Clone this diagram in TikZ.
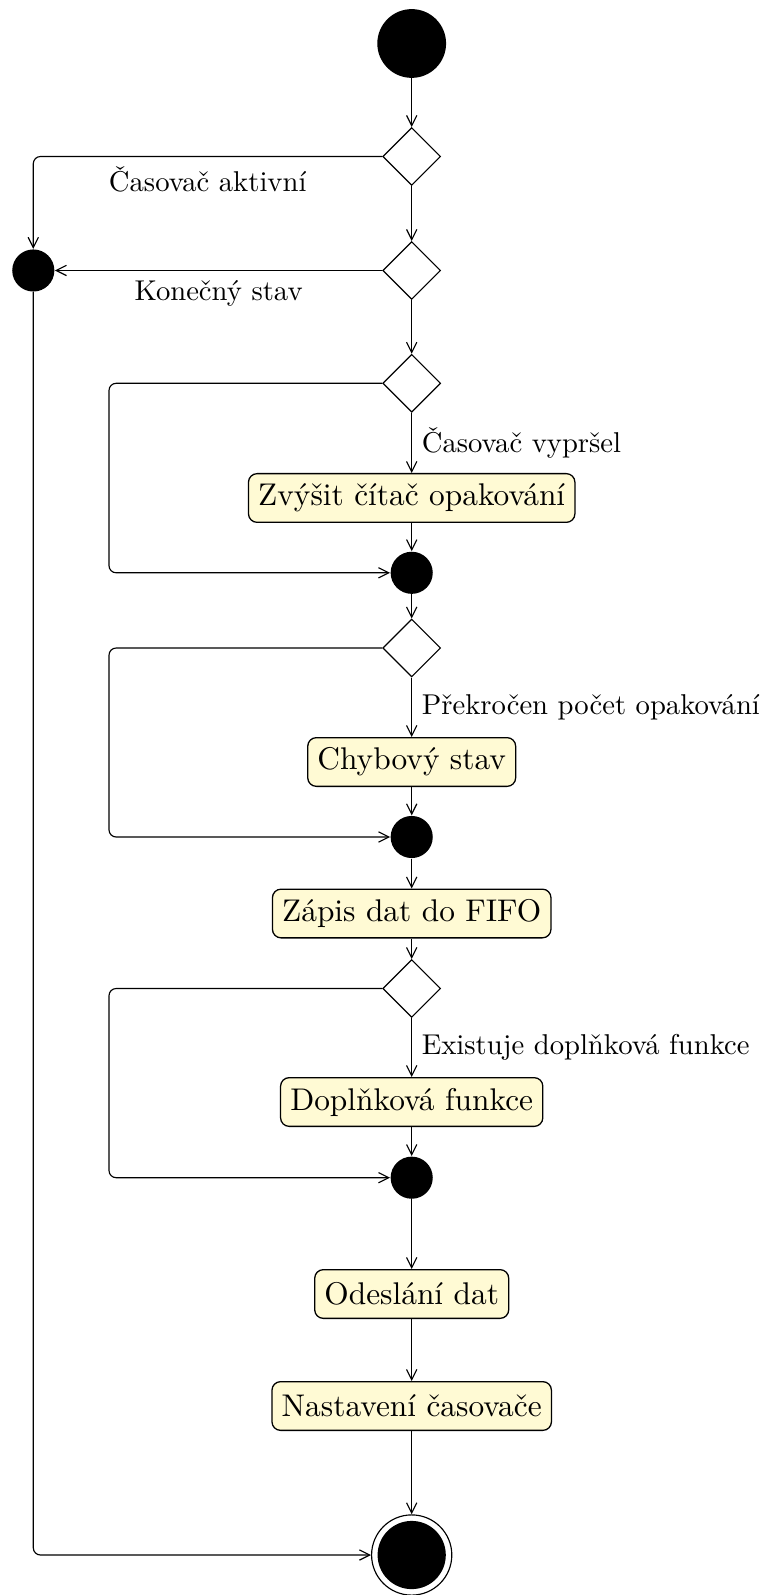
\documentclass[tikz,border=0pt]{standalone}
\usetikzlibrary{shapes.geometric,arrows.meta}
\definecolor{actfill}{RGB}{255,250,212}
\begin{document}
\begin{tikzpicture}[x=0.349pt,y=-0.349pt,
  flow/.style={draw, line width=0.4pt, rounded corners=2.5pt,
    -{Straight Barb[length=3.6pt,width=3.6pt]}},
  initial/.style={circle, fill=black, inner sep=0pt, minimum size=24pt},
  merge/.style={circle, fill=black, inner sep=0pt, minimum size=14.7pt},
  decision/.style={diamond, draw, line width=0.4pt, inner sep=0pt,
    minimum width=20.2pt, minimum height=20.2pt, fill=white},
  activity/.style={rectangle, rounded corners=3pt, draw, fill=actfill,
    line width=0.45pt, minimum height=17pt, inner xsep=3.4pt,
    font=\fontsize{10.95}{13.6}\selectfont},
  final/.style={circle, draw, line width=0.4pt, inner sep=0pt, minimum size=28pt,
    path picture={\fill[black] (path picture bounding box.center) circle (11.9pt);}},
  guard/.style={font=\fontsize{10}{12}\selectfont}
]
\useasboundingbox (0,0) rectangle (770,1595);

% nodes of the activity flow
\node[initial]  (start) at (411.7,43.5) {};
\node[decision] (d1) at (411.7,156.5) {};
\node[decision] (d2) at (411.7,270.5) {};
\node[merge]    (lj) at (33.3,270.5) {};
\node[decision] (d3) at (411.7,383.3) {};
\node[activity] (a1) at (411.7,498) {Zvýšit čítač opakování};
\node[merge]    (j1) at (411.7,572.8) {};
\node[decision] (d4) at (411.7,648) {};
\node[activity] (a2) at (411.7,762) {Chybový stav};
\node[merge]    (j2) at (411.7,837) {};
\node[activity] (a3) at (411.7,913.5) {Zápis dat do FIFO};
\node[decision] (d5) at (411.7,988.5) {};
\node[activity] (a4) at (411.7,1102) {Doplňková funkce};
\node[merge]    (j3) at (411.7,1177.7) {};
\node[activity] (a5) at (411.7,1294) {Odeslání dat};
\node[activity] (a6) at (411.7,1406) {Nastavení časovače};
\node[final]    (end) at (411.7,1555) {};
\coordinate (loopx) at (109,0);

% transitions
\draw[flow] (start) -- (d1);
\draw[flow] (d1) -- (d2);
\draw[flow] (d1.west) -| node[guard, below, pos=0.25] {Časovač aktivní} (lj);
\draw[flow] (d2.west) -- node[guard, below] {Konečný stav} (lj);
\draw[flow] (lj) |- (end);
\draw[flow] (d2) -- (d3);

\draw[flow] (d3) -- node[guard, right] {Časovač vypršel} (a1);
\draw[flow] (a1) -- (j1);
\draw[flow] (d3.west) -| (loopx |- j1) -- (j1);
\draw[flow] (j1) -- (d4);

\draw[flow] (d4) -- node[guard, right] {Překročen počet opakování} (a2);
\draw[flow] (a2) -- (j2);
\draw[flow] (d4.west) -| (loopx |- j2) -- (j2);
\draw[flow] (j2) -- (a3);
\draw[flow] (a3) -- (d5);

\draw[flow] (d5) -- node[guard, right] {Existuje doplňková funkce} (a4);
\draw[flow] (a4) -- (j3);
\draw[flow] (d5.west) -| (loopx |- j3) -- (j3);
\draw[flow] (j3) -- (a5);
\draw[flow] (a5) -- (a6);
\draw[flow] (a6) -- (end);
\end{tikzpicture}
\end{document}
